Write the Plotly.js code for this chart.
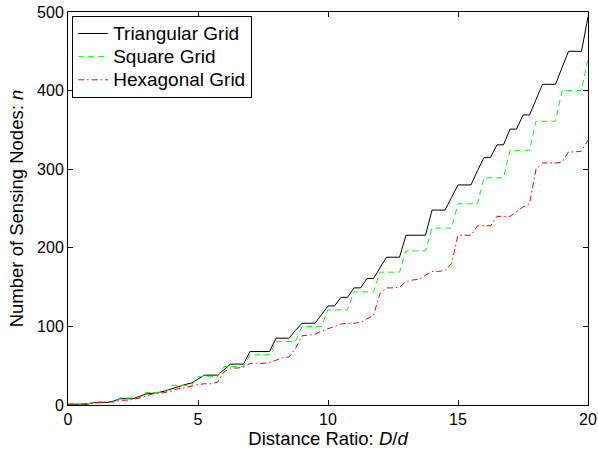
<!DOCTYPE html>
<html>
<head>
<meta charset="utf-8">
<script src="https://cdn.plot.ly/plotly-3.0.1.min.js"></script>
<style>
html,body{margin:0;padding:0;background:#fff;}
#chart{width:598px;height:455px;}
</style>
</head>
<body>
<div id="chart"></div>
<script>
// Distance ratio D/d, sampled every 0.25 from 0 to 20
var distanceRatio = [
  0,0.25,0.5,0.75,1,1.25,1.5,1.75,2,2.25,2.5,2.75,3,3.25,3.5,3.75,4,4.25,4.5,4.75,
  5,5.25,5.5,5.75,6,6.25,6.5,6.75,7,7.25,7.5,7.75,8,8.25,8.5,8.75,9,9.25,9.5,9.75,
  10,10.25,10.5,10.75,11,11.25,11.5,11.75,12,12.25,12.5,12.75,13,13.25,13.5,13.75,
  14,14.25,14.5,14.75,15,15.25,15.5,15.75,16,16.25,16.5,16.75,17,17.25,17.5,17.75,
  18,18.25,18.5,18.75,19,19.25,19.5,19.75,20
];

var triangularGrid = [
  1,1,1,1,3,3,3,5,8,8,8,11,14,15,16,18,21,23,26,28,
  33,38,38,38,45,52,52,52,68,68,68,68,85,85,85,95,104,104,104,115,
  126,126,137,137,149,149,161,161,175,188,188,188,216,216,216,216,
  248,248,248,264,280,280,280,298,315,315,331,331,351,351,369,369,
  388,408,408,408,429,450,450,450,494
];

var squareGrid = [
  1,1,1,1,4,4,4,4,9,9,9,9,16,16,16,16,25,25,25,25,
  36,36,36,36,49,49,49,49,64,64,64,64,81,81,81,81,100,100,100,100,
  121,121,121,121,144,144,144,144,169,169,169,169,196,196,196,196,
  225,225,225,225,256,256,256,256,289,289,289,289,324,324,324,324,
  361,361,361,361,400,400,400,400,441
];

var hexagonalGrid = [
  1,1,1,2,3,3,4,4,6,6,7,9,12,14,15,16,18,21,22,24,
  26,27,27,29,42,47,47,48,53,53,53,54,57,60,61,72,88,89,90,94,
  97,101,103,104,104,105,109,114,142,149,149,150,157,159,160,165,
  170,170,171,180,216,216,216,228,228,228,240,240,240,246,252,256,
  300,308,308,308,309,322,322,323,337
];

var seriesNames = ['Triangular Grid', 'Square Grid', 'Hexagonal Grid'];
var xTicks = [0, 5, 10, 15, 20];
var yTicks = [0, 100, 200, 300, 400, 500];

var FONT = '"Liberation Sans", Arial, Helvetica, sans-serif';

function legendLabel(s) {
  return '<span style="font-size:19px">' + s + '</span>';
}

var traces = [
  {x: distanceRatio, y: triangularGrid, name: legendLabel(seriesNames[0]), type: 'scatter', mode: 'lines',
   line: {color: '#000000', width: 1}},
  {x: distanceRatio, y: squareGrid, name: legendLabel(seriesNames[1]), type: 'scatter', mode: 'lines',
   line: {color: '#00ff00', width: 1, dash: '6px,4px'}},
  {x: distanceRatio, y: hexagonalGrid, name: legendLabel(seriesNames[2]), type: 'scatter', mode: 'lines',
   line: {color: '#ff0000', width: 1, dash: '6px,3px,1.5px,3px'}}
];

var axisCommon = {
  showline: true, linecolor: '#000', linewidth: 1, mirror: 'ticks',
  ticks: 'inside', ticklen: 5, tickwidth: 1, tickcolor: '#000',
  showgrid: false, zeroline: false,
  tickfont: {family: FONT, size: 16, color: '#000'}
};

var layout = {
  width: 598, height: 455,
  margin: {l: 68, r: 10, t: 12, b: 50, pad: 0},
  paper_bgcolor: '#fff', plot_bgcolor: '#fff',
  font: {family: FONT, size: 16, color: '#000'},
  showlegend: true,
  legend: {
    x: 0.008, y: 0.99, xanchor: 'left', yanchor: 'top',
    bgcolor: '#fff', bordercolor: '#000', borderwidth: 1,
    font: {family: FONT, size: 15.5, color: '#000'},
    tracegroupgap: 0
  },
  xaxis: Object.assign({}, axisCommon, {
    range: [0, 20], tickvals: xTicks, ticktext: xTicks.map(String),
    title: {text: 'Distance Ratio: <i>D</i>/<i>d</i>', font: {family: FONT, size: 18.5, color: '#000'}, standoff: 2}
  }),
  yaxis: Object.assign({}, axisCommon, {
    range: [0, 500], tickvals: yTicks, ticktext: yTicks.map(String),
    title: {text: 'Number of Sensing Nodes: <i>n</i>', font: {family: FONT, size: 18.5, color: '#000'}, standoff: 8}
  })
};

Plotly.newPlot('chart', traces, layout, {displayModeBar: false, staticPlot: true});
</script>
</body>
</html>
